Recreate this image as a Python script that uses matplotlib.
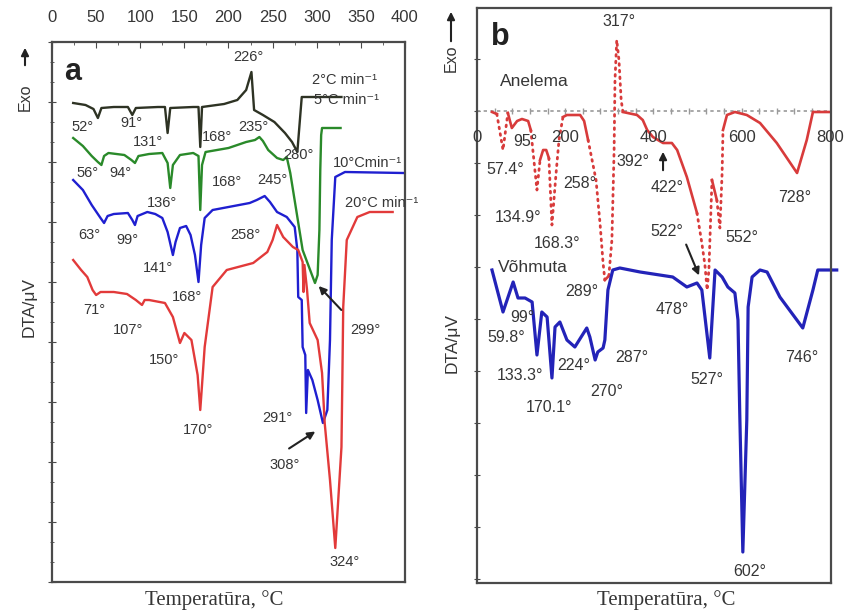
import matplotlib
matplotlib.use("Agg")
import numpy as np
import matplotlib.pyplot as plt
from matplotlib.ticker import MultipleLocator

plt.rcParams['font.family'] = ['Liberation Sans', 'DejaVu Sans']

# panel a: DTA curves at four heating rates (temperature degC, signal arb. units)
temp_2 = [24, 38, 47, 52, 56, 70, 86, 91, 95, 120, 128, 131, 134, 160, 166, 168, 170,
          195, 210, 220, 226, 229, 233, 239, 252, 264, 272, 278, 280, 283, 328]
dta_2 = [479, 477, 473, 464, 474, 475, 475, 467, 474, 475, 475, 449, 474, 475, 475, 435, 475,
         478, 482, 492, 510, 472, 470, 467, 460, 449, 440, 430, 452, 485, 485]

temp_5 = [24, 35, 45, 52, 56, 59, 64, 82, 90, 94, 98, 110, 125, 131, 134, 137, 145, 160, 166,
          168, 170, 174, 200, 220, 230, 235, 239, 245, 255, 262, 266, 270, 284, 298, 301, 303,
          304, 305, 306, 327]
dta_5 = [444, 436, 426, 420, 417, 426, 429, 427, 422, 419, 426, 428, 429, 419, 394, 417, 427, 429, 426,
         372, 417, 430, 434, 440, 442, 445, 441, 432, 424, 422, 425, 409, 332, 299, 307, 352,
         412, 447, 454, 454]

temp_10 = [24, 35, 45, 55, 59, 63, 70, 86, 91, 94, 97, 108, 117, 125, 131, 137, 140, 145, 152,
           157, 162, 166, 169, 173, 182, 224, 232, 241, 247, 255, 266, 275, 278, 279, 283, 284,
           287, 288, 290, 295, 301, 307, 312, 315, 317, 321, 332, 398]
dta_10 = [402, 392, 377, 364, 359, 366, 368, 369, 362, 357, 366, 370, 368, 364, 350, 327, 340, 354, 356,
          347, 327, 300, 337, 364, 372, 379, 382, 386, 380, 370, 365, 355, 332, 285, 282, 235,
          227, 169, 212, 202, 182, 159, 172, 242, 342, 405, 410, 409]

temp_20 = [24, 33, 40, 46, 50, 55, 70, 85, 95, 102, 105, 110, 128, 137, 145, 150, 158, 165, 168,
           170, 173, 182, 198, 228, 244, 250, 255, 262, 273, 279, 284, 285, 286, 289, 292, 301,
           306, 309, 315, 321, 324, 328, 329, 330, 334, 346, 360, 386]
dta_20 = [322, 312, 305, 292, 287, 290, 290, 288, 282, 277, 282, 282, 279, 265, 239, 249, 242, 207, 172,
          197, 235, 295, 312, 319, 330, 342, 357, 345, 335, 332, 320, 290, 317, 292, 259, 242,
          209, 159, 102, 34, 77, 135, 202, 275, 342, 365, 370, 370]

# panel b: Anelema and Vohmuta samples
temp_anelema = [34, 45, 59, 70, 79, 91, 102, 116, 122, 129, 136, 143, 150, 157, 163, 170, 179, 186,
                195, 204, 234, 243, 252, 261, 270, 279, 286, 290, 299, 306, 311, 313, 317, 322,
                327, 331, 363, 376, 386, 399, 422, 442, 454, 476, 499, 510, 517, 522, 526, 533,
                544, 551, 556, 558, 567, 585, 612, 642, 680, 726, 748, 762, 800]
dta_anelema = [-1, -3, -39, -2, -17, -10, -8, -10, -19, -49, -79, -49, -39, -39, -47, -114, -64, -29,
               -6, -4, -4, -10, -29, -49, -69, -112, -152, -169, -165, -129, -39, 31, 71, 51,
               11, -1, -4, -9, -19, -26, -32, -32, -39, -66, -102, -132, -154, -179, -159, -69,
               -89, -117, -62, -19, -4, -1, -4, -12, -32, -62, -29, -1, -1]

temp_vohmuta = [34, 59, 82, 93, 109, 125, 136, 147, 159, 170, 177, 188, 204, 222, 249, 256, 268, 274,
                286, 290, 297, 308, 324, 370, 444, 476, 499, 510, 528, 540, 556, 569, 585, 592,
                596, 603, 612, 615, 624, 642, 658, 687, 739, 762, 773, 816]
dta_vohmuta = [-159, -201, -171, -187, -187, -191, -244, -201, -206, -267, -216, -211, -229, -236, -217,
               -226, -249, -241, -237, -229, -179, -159, -157, -161, -166, -176, -172, -179, -247,
               -159, -166, -176, -182, -209, -302, -441, -309, -196, -166, -159, -161, -186, -217,
               -179, -159, -159]

top_ticks = [0, 50, 100, 150, 200, 250, 300, 350, 400]
mid_ticks = [0, 200, 400, 600, 800]

labels_a = [("226°", 222, 525), ("52°", 35, 455), ("91°", 90, 459), ("131°", 109, 440),
            ("168°", 187, 445), ("235°", 228, 455), ("280°", 279, 427), ("56°", 40, 409),
            ("94°", 77, 409), ("168°", 198, 400), ("245°", 250, 402), ("136°", 125, 379),
            ("63°", 42, 347), ("99°", 86, 342), ("258°", 219, 347), ("141°", 120, 314),
            ("168°", 153, 285), ("71°", 48, 272), ("107°", 86, 252), ("299°", 355, 252),
            ("150°", 127, 222), ("170°", 165, 152), ("291°", 255, 164), ("308°", 264, 117),
            ("324°", 332, 20)]
rates_a = [("2°C min⁻¹", 332, 502), ("5°C min⁻¹", 334, 482),
           ("10°Cmin⁻¹", 357, 419), ("20°C min⁻¹", 374, 379)]

labels_b = [("317°", 322, 89), ("95°", 109, -31), ("57.4°", 63, -59), ("392°", 354, -50),
            ("422°", 431, -77), ("728°", 721, -86), ("258°", 234, -72), ("134.9°", 94, -106),
            ("168.3°", 181, -132), ("522°", 431, -121), ("552°", 601, -127), ("289°", 238, -181),
            ("478°", 444, -198), ("99°", 104, -207), ("59.8°", 66, -227), ("287°", 352, -246),
            ("224°", 220, -254), ("746°", 737, -246), ("133.3°", 98, -265), ("527°", 522, -269),
            ("270°", 295, -281), ("170.1°", 163, -297), ("602°", 619, -461)]

TXT = '#363636'
FRAME = '#4a4a4a'
W, H = 845, 614

fig = plt.figure(figsize=(8.45, 6.14), dpi=100)


def place(x0, y0, x1, y1):
    return fig.add_axes([x0 / W, 1 - y1 / H, (x1 - x0) / W, (y1 - y0) / H])


def ftext(x, y, s, **kw):
    fig.text(x / W, 1 - y / H, s, ha='center', va='center', color=TXT, **kw)


def farrow(x, y0, y1):
    fig.add_artist(matplotlib.patches.FancyArrowPatch(
        (x / W, 1 - y0 / H), (x / W, 1 - y1 / H), transform=fig.transFigure,
        arrowstyle='-|>', mutation_scale=11, lw=1.5, color='#222222'))


ax_a = place(52, 42, 405, 582)
ax_b = place(477, 8, 831, 583)

for ax in (ax_a, ax_b):
    for s in ax.spines.values():
        s.set_color(FRAME)
        s.set_linewidth(1.6)
    ax.tick_params(axis='y', which='both', direction='inout', labelleft=False, colors=FRAME)

# ---- panel a
ax_a.plot(temp_2, dta_2, color='#2e3324', lw=1.7)
ax_a.plot(temp_5, dta_5, color='#2a8a2a', lw=1.7)
ax_a.plot(temp_10, dta_10, color='#1f1fd0', lw=1.7)
ax_a.plot(temp_20, dta_20, color='#e23a3a', lw=1.7)
ax_a.set_xlim(0, 400)
ax_a.set_ylim(0, 540)
ax_a.xaxis.tick_top()
ax_a.set_xticks(top_ticks)
ax_a.xaxis.set_minor_locator(MultipleLocator(25))
ax_a.tick_params(axis='x', which='both', direction='in', colors=FRAME,
                 labelcolor=TXT, labelsize=12, pad=12)
ax_a.tick_params(axis='x', which='major', length=4)
ax_a.tick_params(axis='x', which='minor', length=2)
ax_a.yaxis.set_major_locator(MultipleLocator(60))
ax_a.yaxis.set_minor_locator(MultipleLocator(20))
ax_a.tick_params(axis='y', which='major', length=6)
ax_a.tick_params(axis='y', which='minor', length=3)

ax_a.text(23, 510, "a", fontsize=22, fontweight='bold', color='#222222', ha='center', va='center')
for s, x, y in labels_a:
    ax_a.text(x, y, s, fontsize=10.5, color=TXT, ha='center', va='center')
for s, x, y in rates_a:
    ax_a.text(x, y, s, fontsize=10.5, color=TXT, ha='center', va='center', clip_on=False)

arrow = dict(arrowstyle='-|>', color='#222222', lw=1.5, mutation_scale=11)
ax_a.annotate('', xy=(300, 298), xytext=(330, 270), arrowprops=arrow)
ax_a.annotate('', xy=(301, 152), xytext=(266, 132), arrowprops=arrow)

# ---- panel b
ax_b.axhline(0, color='#9a9a9a', lw=1.2, ls=(0, (2, 2)))
ax_b.plot(np.arange(40, 800, 40), np.zeros(19), ls='none', marker='|', ms=5,
          mew=1.0, color='#9a9a9a')
for t in mid_ticks:
    ax_b.text(t, -27, str(t), fontsize=12, color=TXT, ha='center', va='center')

t = np.array(temp_anelema, float)
d = np.array(dta_anelema, float)
steep = np.abs(np.diff(d) / np.diff(t)) > 2.2
start = 0
for i in range(1, len(steep) + 1):
    if i == len(steep) or steep[i] != steep[start]:
        seg = slice(start, i + 1)
        if steep[start]:
            ax_b.plot(t[seg], d[seg], color='#d83b3b', lw=2.0, ls=(0, (0.6, 1.8)),
                      dash_capstyle='round')
        else:
            ax_b.plot(t[seg], d[seg], color='#d83b3b', lw=1.9)
        start = i

ax_b.plot(temp_vohmuta, dta_vohmuta, color='#2323b8', lw=2.3, clip_on=False)
ax_b.set_xlim(0, 803)
ax_b.set_ylim(-472, 103)
ax_b.set_xticks([])
ax_b.yaxis.set_major_locator(MultipleLocator(52))
ax_b.tick_params(axis='y', which='major', length=5)

ax_b.text(52, 74, "b", fontsize=22, fontweight='bold', color='#222222', ha='center', va='center')
ax_b.text(131, 29, "Anelema", fontsize=12.5, color=TXT, ha='center', va='center')
ax_b.text(127, -157, "Võhmuta", fontsize=12.5, color=TXT, ha='center', va='center')
for s, x, y in labels_b:
    ax_b.text(x, y, s, fontsize=11.5, color=TXT, ha='center', va='center')
ax_b.annotate('', xy=(422, -38), xytext=(422, -62), arrowprops=arrow)
ax_b.annotate('', xy=(506, -167), xytext=(472, -131), arrowprops=arrow)

# ---- outer labels
ftext(25, 97, "Exo", fontsize=11.5, rotation=90)
farrow(25, 68, 45)
ftext(29, 307, "DTA/μV", fontsize=12.5, rotation=90)
ftext(451, 58, "Exo", fontsize=11.5, rotation=90)
farrow(451, 44, 9)
ftext(452, 343, "DTA/μV", fontsize=12.5, rotation=90)
ftext(214, 600, "Temperatūra, °C", fontsize=15, family='Liberation Serif')
ftext(666, 600, "Temperatūra, °C", fontsize=15, family='Liberation Serif')

fig.savefig("out.png", dpi=100)
